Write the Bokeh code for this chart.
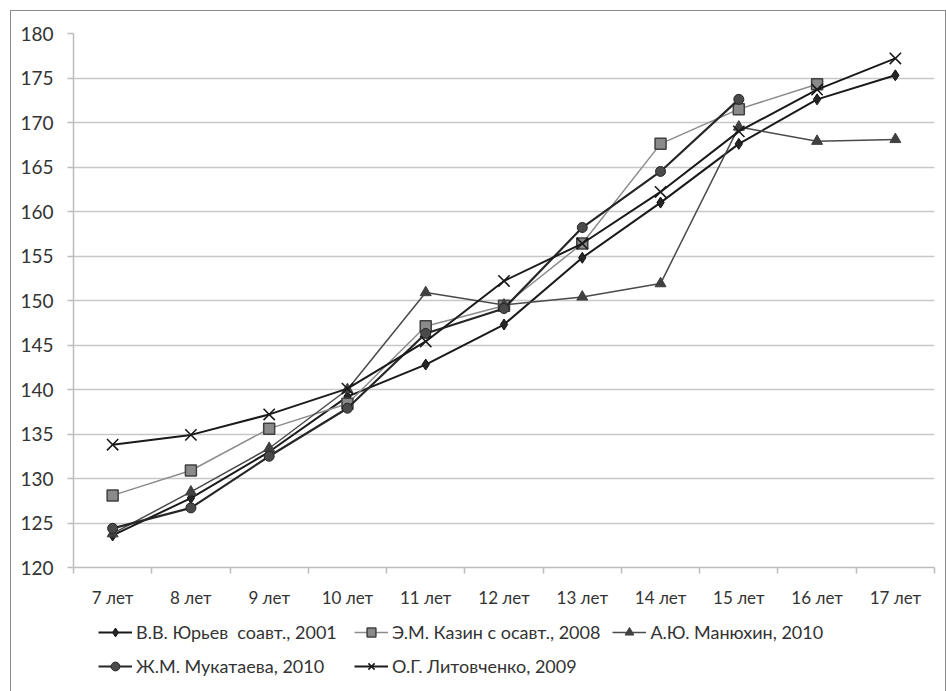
from bokeh.plotting import figure
from bokeh.layouts import column
from bokeh.models import Legend, LegendItem, FixedTicker, ColumnDataSource
from bokeh.embed import file_html
from bokeh.resources import INLINE

# Age groups (x categories)
ages = ["7 лет", "8 лет", "9 лет", "10 лет", "11 лет", "12 лет",
        "13 лет", "14 лет", "15 лет", "16 лет", "17 лет"]

# Body length, cm, by author
yuriev = [123.6, 127.8, 133.0, 139.2, 142.8, 147.3, 154.8, 161.0, 167.6, 172.6, 175.3]
kazin = [128.1, 130.9, 135.6, 138.4, 147.1, 149.4, 156.4, 167.6, 171.5, 174.3, None]
manyukhin = [123.8, 128.5, 133.4, 140.0, 150.9, 149.5, 150.4, 151.9, 169.5, 167.9, 168.1]
mukataeva = [124.4, 126.7, 132.5, 137.9, 146.3, 149.1, 158.2, 164.5, 172.6, None, None]
litovchenko = [133.8, 134.9, 137.2, 140.1, 145.4, 152.2, 156.4, 162.2, 169.0, 173.7, 177.2]

series_names = [
    "В.В. Юрьев  соавт., 2001",
    "Э.М. Казин с осавт., 2008",
    "А.Ю. Манюхин, 2010",
    "Ж.М. Мукатаева, 2010",
    "О.Г. Литовченко, 2009",
]

FONT = "Lato"
positions = list(range(1, len(ages) + 1))

# line / marker styling per series
styles = [
    (dict(line_color="#1a1a1a", line_width=2),
     dict(marker="diamond", size=11, fill_color="#262626", line_color="#111111", line_width=1)),
    (dict(line_color="#8c8c8c", line_width=1.5),
     dict(marker="square", size=11, fill_color="#8a8a8a", line_color="#404040", line_width=1.5)),
    (dict(line_color="#4a4a4a", line_width=1.5),
     dict(marker="triangle", size=11, fill_color="#404040", line_color="#404040", line_width=1)),
    (dict(line_color="#262626", line_width=2.2),
     dict(marker="circle", size=10, fill_color="#4a4a4a", line_color="#262626", line_width=1)),
    (dict(line_color="#1a1a1a", line_width=2),
     dict(marker="x", size=16, line_color="#1a1a1a", line_width=1.6)),
]
series = [yuriev, kazin, manyukhin, mukataeva, litovchenko]


def src(vals):
    xs = [x for x, v in zip(positions, vals) if v is not None]
    ys = [v for v in vals if v is not None]
    return ColumnDataSource(dict(x=xs, y=ys))


sources = [src(v) for v in series]


def draw(fig, source, style):
    line_kw, marker_kw = style
    l = fig.line("x", "y", source=source, **line_kw)
    m = fig.scatter("x", "y", source=source, **marker_kw)
    return l, m


# ---- main chart ----
p = figure(
    width=934, height=600,
    x_range=(0.5, len(ages) + 0.5), y_range=(120, 180),
    output_backend="svg", toolbar_location=None,
    min_border_left=62, min_border_right=11,
    min_border_top=22, min_border_bottom=44,
)
p.outline_line_color = None
p.background_fill_color = "white"
p.border_fill_color = "white"

p.yaxis.ticker = FixedTicker(ticks=list(range(120, 181, 5)))
p.yaxis.axis_line_color = "#bdbdbd"
p.yaxis.axis_line_width = 1.5
p.yaxis.major_tick_line_color = "#bdbdbd"
p.yaxis.major_tick_line_width = 1.5
p.yaxis.major_tick_out = 6
p.yaxis.major_tick_in = 0
p.yaxis.minor_tick_line_color = None
p.yaxis.major_label_standoff = 14
p.yaxis.major_label_text_font = FONT
p.yaxis.major_label_text_font_size = "19px"
p.yaxis.major_label_text_color = "#333333"

# x axis: labels at category centres, tick marks between categories
p.xaxis.ticker = FixedTicker(ticks=positions,
                             minor_ticks=[i + 0.5 for i in range(0, len(ages) + 1)])
p.xaxis.major_label_overrides = {i: a for i, a in zip(positions, ages)}
p.xaxis.axis_line_color = "#bdbdbd"
p.xaxis.axis_line_width = 1.5
p.xaxis.major_tick_line_color = None
p.xaxis.minor_tick_line_color = "#bdbdbd"
p.xaxis.minor_tick_line_width = 1.5
p.xaxis.minor_tick_out = 6
p.xaxis.minor_tick_in = 0
p.xaxis.major_label_standoff = 13
p.xaxis.major_label_text_font = FONT
p.xaxis.major_label_text_font_size = "17px"
p.xaxis.major_label_text_color = "#333333"

p.xgrid.visible = False
p.ygrid.grid_line_color = "#c8c8c8"
p.ygrid.grid_line_width = 1.5

for s, st in zip(sources, styles):
    draw(p, s, st)

# ---- legend strip under the chart ----
# same series glyphs; the strip's ranges keep them out of view so only the key shows
q = figure(
    width=909, height=80, x_range=(0, 1), y_range=(0, 1),
    x_axis_type=None, y_axis_type=None,
    output_backend="svg", toolbar_location=None,
    min_border=0,
)
q.margin = (10, 0, 0, 25)
q.outline_line_color = None
q.xgrid.visible = False
q.ygrid.grid_line_color = None
q.border_fill_color = "white"

items = []
for name, s, st in zip(series_names, sources, styles):
    l, m = draw(q, s, st)
    items.append(LegendItem(label=name, renderers=[l, m]))

# columns fill top to bottom, so order items for left-to-right rows
legend = Legend(items=[items[0], items[3], items[1], items[4], items[2]],
                ncols=3, location="top_left")
legend.label_text_font = FONT
legend.label_text_font_size = "18px"
legend.label_text_color = "#333333"
legend.glyph_width = 34
legend.glyph_height = 22
legend.label_height = 22
legend.label_width = 206
legend.label_standoff = 4
legend.spacing = 12
legend.padding = 10
legend.margin = 0
legend.border_line_color = None
legend.background_fill_alpha = 0
q.add_layout(legend)

layout = column(p, q)
layout.margin = (10, 0, 0, 10)
layout.styles = {
    "border-top": "1px solid #8c8c8c",
    "border-left": "1px solid #8c8c8c",
    "border-right": "1px solid #8c8c8c",
    "background-color": "white",
}

open("out.html", "w").write(file_html(layout, INLINE))
